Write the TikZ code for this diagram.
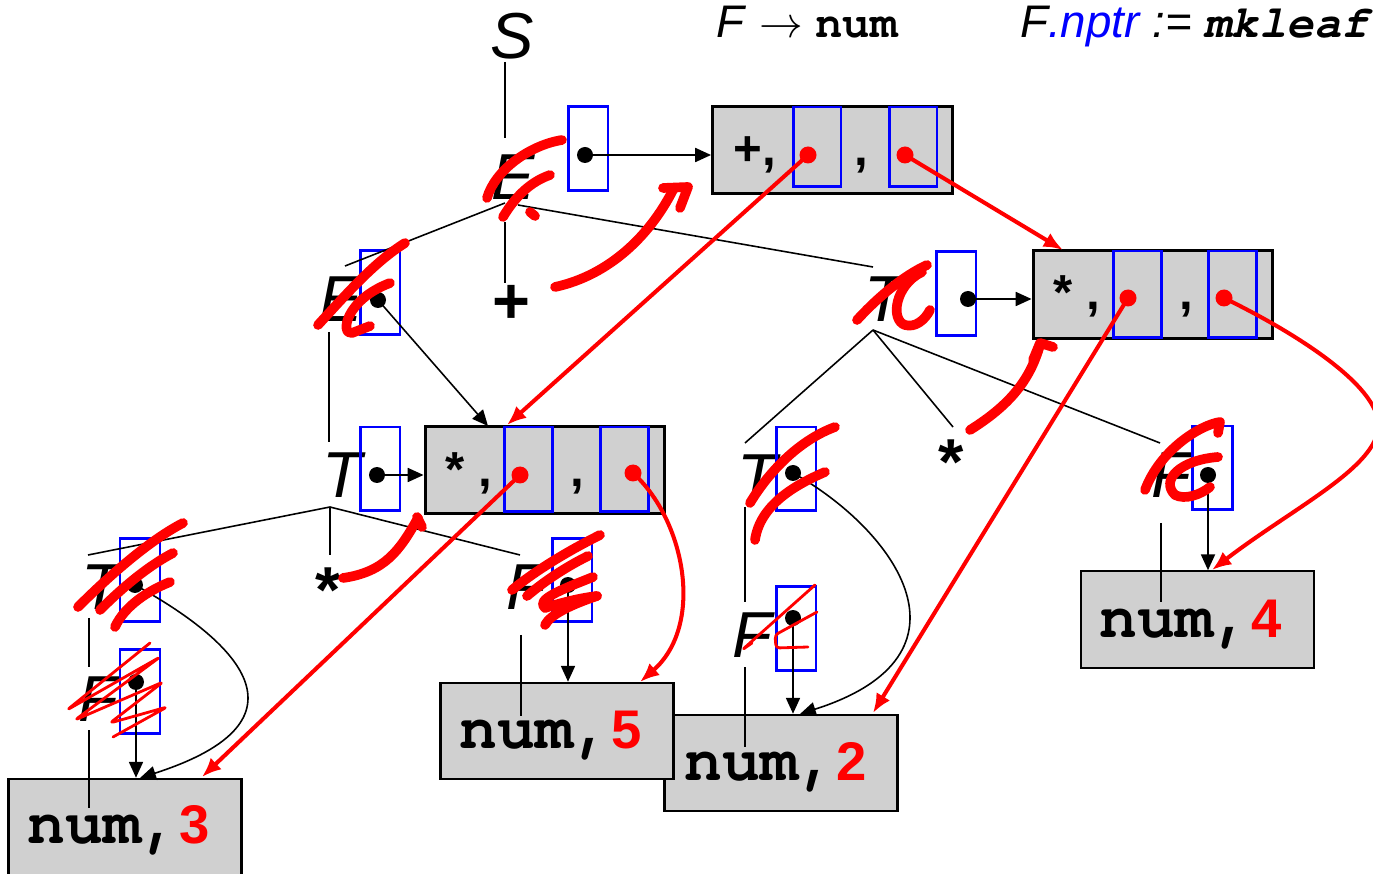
\documentclass[tikz,border=0pt]{standalone}
\usepackage{fontspec}
\setmainfont{Liberation Sans}
\setmonofont{TeX Gyre Cursor}
\usetikzlibrary{arrows.meta}
\definecolor{cellgrey}{HTML}{D0D0D0}
\definecolor{ptrblue}{HTML}{0000FF}
\definecolor{inkred}{HTML}{FF0000}

\begin{document}
\begin{tikzpicture}[x=0.02cm, y=-0.02cm,
    lbl/.style={font=\fontsize{37}{40}\selectfont\itshape, inner sep=0pt, anchor=base},
    tok/.style={font=\fontsize{37}{40}\selectfont\bfseries, inner sep=0pt, anchor=base},
    fld/.style={font=\fontsize{28}{30}\selectfont\bfseries, inner sep=0pt, anchor=base west},
    ptr/.style={draw=ptrblue, line width=1.7pt, minimum width=0.8cm, minimum height=1.68cm, inner sep=0pt},
    rec/.style={draw=black, fill=cellgrey, line width=1.7pt, minimum width=4.8cm, minimum height=1.75cm, inner sep=0pt},
    cell/.style={draw=ptrblue, line width=1.7pt, minimum width=0.96cm, minimum height=1.62cm, inner sep=0pt},
    leaf/.style={draw=black, fill=cellgrey, line width=1.2pt, minimum width=4.66cm, minimum height=1.93cm, inner sep=0pt},
    leaftxt/.style={font=\fontsize{36}{38}\selectfont\ttfamily\bfseries, inner sep=0pt, anchor=base west},
    digit/.style={font=\rmfamily\bfseries\fontsize{31}{33}\selectfont, text=inkred},
    dot/.style={circle, fill=black, inner sep=0pt, minimum size=0.32cm},
    rdot/.style={circle, fill=inkred, inner sep=0pt, minimum size=0.34cm},
    edge/.style={draw=black, line width=0.9pt},
    a/.style={-{Triangle[length=9pt, width=8pt]}, draw=black, line width=0.9pt},
    ra/.style={-{Latex[length=11pt, width=9pt]}, draw=inkred, line width=2.3pt},
    scrawl/.style={draw=inkred, line width=5.5pt, line cap=round, line join=round},
    scrawlthin/.style={draw=inkred, line width=1.6pt, line cap=round, line join=round, rounded corners=2pt}]
  \fill[white] (0,0) rectangle (1373,874);
  \useasboundingbox (0,0) rectangle (1373,874);

  % rule and action
  \node[anchor=base west, inner sep=0pt, font=\fontsize{26}{28}\selectfont] (rule) at (716,38)
    {\textit{F} $\rightarrow$ \texttt{\bfseries num}};
  \node[anchor=base west, inner sep=0pt, font=\fontsize{26}{28}\selectfont\itshape] (action) at (1020,38)
    {F\textcolor{ptrblue}{.nptr} := \texttt{\bfseries mkleaf}};

  % leaves
  \node[leaf] (n2) at (781,763) {};
  \node[leaf] (n5) at (557,731) {};
  \node[leaf] (n3) at (125,827) {};
  \node[leaf] (n4) at (1197.5,619.5) {};
  \node[leaftxt] (t3txt) at (27,843) {num,{\pgfkeysalso{}\rmfamily\bfseries\fontsize{31}{33}\selectfont\color{inkred}3}};
  \node[leaftxt] (t5txt) at (459,748) {num,{\rmfamily\bfseries\fontsize{31}{33}\selectfont\color{inkred}5}};
  \node[leaftxt] (t2txt) at (684,780) {num,{\rmfamily\bfseries\fontsize{31}{33}\selectfont\color{inkred}2}};
  \node[leaftxt] (t4txt) at (1099,638) {num,{\rmfamily\bfseries\fontsize{31}{33}\selectfont\color{inkred}4}};

  % records
  \node[rec] (r1) at (832.5,150) {};
  \node[cell, minimum height=1.6cm] (c11) at (817,147) {};
  \node[cell, minimum height=1.6cm] (c12) at (913,147) {};
  \node[fld] at (733,166) {+,};
  \node[fld] at (854,166) {,};
  \node[rec] (r2) at (1153,294.5) {};
  \node[cell, minimum height=1.74cm] (c21) at (1137,294.5) {};
  \node[cell, minimum height=1.74cm] (c22) at (1232.5,294.5) {};
  \node[fld] at (1053,310) {* ,};
  \node[fld] at (1179,310) {,};
  \node[rec] (r3) at (545,470) {};
  \node[cell, minimum height=1.7cm] (c31) at (528.5,469.5) {};
  \node[cell, minimum height=1.7cm] (c32) at (624.5,469.5) {};
  \node[fld] at (445,487) {* ,};
  \node[fld] at (570,487) {,};

  % tree labels and pointer boxes
  \node[lbl] (s) at (512,59) {S};
  \node[lbl] (e1) at (513,200) {E};
  \node[ptr] (p1) at (588,148.5) {};
  \node[lbl] (e2) at (341,322) {E};
  \node[ptr] (p2) at (380,292.5) {};
  \node[tok] (plus) at (511,324) {+};
  \node[lbl] (t1) at (884,322) {T};
  \node[ptr] (p3) at (956,293.5) {};
  \node[lbl] (t2) at (342,498) {T};
  \node[ptr] (p4) at (380,469) {};
  \node[tok] (st1) at (328,613) {*};
  \node[lbl] (t3) at (101,610) {T};
  \node[ptr] (p5) at (140,580) {};
  \node[lbl] (f1) at (98,722) {F};
  \node[ptr] (p6) at (140,691.5) {};
  \node[lbl] (f2) at (526,610) {F};
  \node[ptr] (p7) at (572,580) {};
  \node[lbl] (t4) at (757,500) {T};
  \node[ptr] (p8) at (796,469) {};
  \node[lbl] (f3) at (752,658) {F};
  \node[ptr] (p9) at (796,628.5) {};
  \node[tok] (st2) at (951,485) {*};
  \node[lbl] (f4) at (1171,498) {F};
  \node[ptr] (p10) at (1212,468) {};

  % tree edges
  \draw[edge] (505,62) -- (505,138);
  \coordinate (e1l) at (505,203); \coordinate (e1r) at (518,205);
  \draw[edge] (e1l) -- (345,266);
  \draw[edge] (e1r) -- (873,267);
  \draw[edge] (505,222) -- (505,283);
  \draw[edge] (329,332) -- (329,442);
  \coordinate (t2ap) at (330,507);
  \draw[edge] (t2ap) -- (88,555);
  \draw[edge] (t2ap) -- (330,555);
  \draw[edge] (t2ap) -- (520,555);
  \draw[edge] (89,618) -- (89,667);
  \draw[edge] (89,730) -- (89,808);
  \draw[edge] (521,635) -- (521,716);
  \coordinate (t1ap) at (873,330);
  \draw[edge] (t1ap) -- (745,443);
  \draw[edge] (t1ap) -- (953,427);
  \draw[edge] (t1ap) -- (1160,443);
  \draw[edge] (745,507) -- (745,602);
  \draw[edge] (745,667) -- (745,747);
  \draw[edge] (1161,523) -- (1161,602);

  % pointers
  \node[dot] (d1) at (585,155) {};
  \node[dot] (d2) at (378,300) {};
  \node[dot] (d3) at (968,299) {};
  \node[dot] (d4) at (377,475) {};
  \node[dot] (d5) at (135,585) {};
  \node[dot] (d6) at (136,682) {};
  \node[dot] (d7) at (568,585) {};
  \node[dot] (d8) at (793,473) {};
  \node[dot] (d9) at (793,618) {};
  \node[dot] (d10) at (1208,475) {};
  \coordinate (r3in) at (488,426);
  \draw[a] (d1.center) -- (d1.center -| r1.west);
  \draw[a] (d3.center) -- (d3.center -| r2.west);
  \draw[a] (d4.center) -- (d4.center -| r3.west);
  \draw[a] (d2.center) -- (r3in);
  \draw[a] (d5.center) .. controls (235,640) and (320,720) .. (140,778);
  \draw[a] (d6.center) -- (d6.center |- n3.north);
  \draw[a] (d7.center) -- (d7.center |- n5.north);
  \draw[a] (d8.center) .. controls (895,530) and (985,655) .. (800,714);
  \draw[a] (d9.center) -- (d9.center |- n2.north);
  \draw[a] (d10.center) -- (d10.center |- n4.north);

  % red links
  \node[rdot] (rd1) at (808,155) {};
  \node[rdot] (rd2) at (905,155) {};
  \node[rdot] (rd3) at (1128,298) {};
  \node[rdot] (rd4) at (1224,298) {};
  \node[rdot] (rd5) at (520,475) {};
  \node[rdot] (rd6) at (633,473) {};
  \draw[ra] (rd1.center) -- (507,425);
  \draw[ra] (rd2.center) -- (1063,250);
  \draw[ra] (rd3.center) -- (873,713);
  \draw[ra] (rd4.center) .. controls (1300,335) and (1385,390) .. (1378,430)
    .. controls (1372,470) and (1290,510) .. (1212,570);
  \draw[ra] (rd5.center) -- (202,777);
  \draw[ra] (rd6.center) .. controls (685,520) and (705,625) .. (640,682);

  % scrawls
  \draw[scrawl] (487,198) .. controls (495,170) and (530,145) .. (562,140);
  \draw[scrawl] (503,217) .. controls (515,197) and (530,182) .. (550,175);
  \draw[scrawl] (530,212) -- (535,216);
  \draw[scrawl] (555,287) .. controls (610,275) and (650,235) .. (673,190);
  \draw[scrawl] (663,188) -- (688,187) -- (680,208);
  \draw[scrawl] (318,325) .. controls (350,290) and (375,262) .. (405,243);
  \draw[scrawl] (390,283) .. controls (345,300) and (340,335) .. (352,333) -- (370,326);
  \draw[scrawl] (857,320) .. controls (880,295) and (905,275) .. (927,265);
  \draw[scrawl] (922,272) .. controls (895,285) and (890,320) .. (905,325)
    .. controls (915,328) and (925,320) .. (930,310);
  \draw[scrawl] (78,607) .. controls (110,575) and (150,540) .. (183,523);
  \draw[scrawl] (100,610) .. controls (125,585) and (150,565) .. (173,553);
  \draw[scrawl] (115,627) .. controls (125,605) and (150,590) .. (170,582);
  \draw[scrawlthin] (150,643) -- (67,710) -- (160,657) -- (75,720) -- (163,682)
    -- (110,723) -- (167,707) -- (113,737);
  \draw[scrawl] (343,578) .. controls (385,572) and (400,550) .. (418,518);
  \draw[scrawl] (417,517) -- (422,527);
  \draw[scrawl] (600,535) .. controls (560,555) and (530,575) .. (512,590);
  \draw[scrawl] (588,556) .. controls (560,570) and (540,585) .. (527,596);
  \draw[scrawl] (593,577) .. controls (560,590) and (535,600) .. (545,608)
    .. controls (560,603) and (580,598) .. (597,596);
  \draw[scrawl] (597,596) .. controls (570,605) and (550,615) .. (545,625);
  \draw[scrawl] (750,503) .. controls (770,470) and (800,440) .. (835,427);
  \draw[scrawl] (755,540) .. controls (760,505) and (795,485) .. (825,472);
  \draw[scrawlthin] (815,585) -- (742,650) -- (752,643);
  \draw[scrawlthin] (817,612) -- (775,635) -- (776,648) -- (808,647);
  \draw[scrawl] (970,430) .. controls (1010,405) and (1030,380) .. (1040,345);
  \draw[scrawl] (1033,360) -- (1040,343) -- (1053,347);
  \draw[scrawl] (1145,490) .. controls (1160,450) and (1200,425) .. (1220,422) -- (1218,433);
  \draw[scrawl] (1218,457) .. controls (1180,460) and (1160,480) .. (1175,495)
    .. controls (1185,500) and (1200,495) .. (1210,487);
\end{tikzpicture}
\end{document}
